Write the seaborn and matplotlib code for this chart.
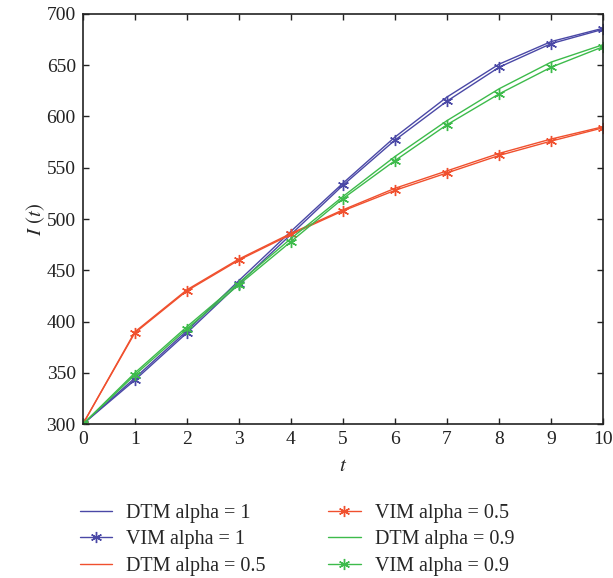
import numpy as np
import pandas as pd
import seaborn as sns
import matplotlib.pyplot as plt

# values
t = [0, 1, 2, 3, 4, 5, 6, 7, 8, 9, 10]
dtm_a1 = [300, 345, 391, 440, 488, 535, 580, 619, 651, 673, 686]
vim_a1 = [300, 343, 389, 437, 485, 533, 577, 615, 648, 671, 685]
dtm_a05 = [300, 390, 431, 461, 486, 509, 530, 547, 564, 578, 590]
vim_a05 = [300, 389, 430, 460, 485, 508, 528, 545, 562, 576, 589]
dtm_a09 = [300, 350, 395, 438, 481, 522, 561, 596, 627, 653, 670]
vim_a09 = [300, 348, 393, 436, 478, 520, 557, 592, 622, 648, 668]

BLUE = "#4a48a6"
RED = "#f0502e"
GREEN = "#3dbb4b"

sns.set_style("ticks")
plt.rcParams['font.family'] = ['Liberation Serif', 'DejaVu Serif']
plt.rcParams['mathtext.fontset'] = 'stix'

fig = plt.figure(figsize=(6.13, 5.78), dpi=100)
ax = fig.add_axes([0.135, 0.266, 0.849, 0.710])

star = (6, 2, 0)
series = [
    ("DTM alpha = 1", dtm_a1, BLUE, None),
    ("VIM alpha = 1", vim_a1, BLUE, star),
    ("DTM alpha = 0.5", dtm_a05, RED, None),
    ("VIM alpha = 0.5", vim_a05, RED, star),
    ("DTM alpha = 0.9", dtm_a09, GREEN, None),
    ("VIM alpha = 0.9", vim_a09, GREEN, star),
]
for name, vals, col, mk in series:
    df = pd.DataFrame({"t": t, "I": vals})
    sns.lineplot(data=df, x="t", y="I", ax=ax, color=col, linewidth=1.0,
                 marker=mk, markersize=8, markeredgewidth=1.0,
                 markeredgecolor=col, label=name)

ax.set_xlim(0, 10)
ax.set_ylim(300, 700)
ax.set_xticks(range(0, 11))
ax.set_yticks(range(300, 701, 50))
ax.tick_params(direction='in', top=True, right=True, length=4, width=1.0,
               labelsize=14, colors='#222222', pad=5)
for s in ax.spines.values():
    s.set_linewidth(1.2)
    s.set_color('#222222')
ax.set_xlabel("$t$", fontsize=15, labelpad=6)
ax.set_ylabel("$I$ $(t)$", fontsize=15, labelpad=0)

handles, labels = ax.get_legend_handles_labels()
ax.legend(handles, labels,
          loc='upper left', bbox_to_anchor=(-0.04, -0.15), ncol=2,
          frameon=False, fontsize=14.5, handlelength=1.6, handletextpad=0.7,
          columnspacing=3.1, labelspacing=0.36)

fig.savefig("out.png", dpi=100)
